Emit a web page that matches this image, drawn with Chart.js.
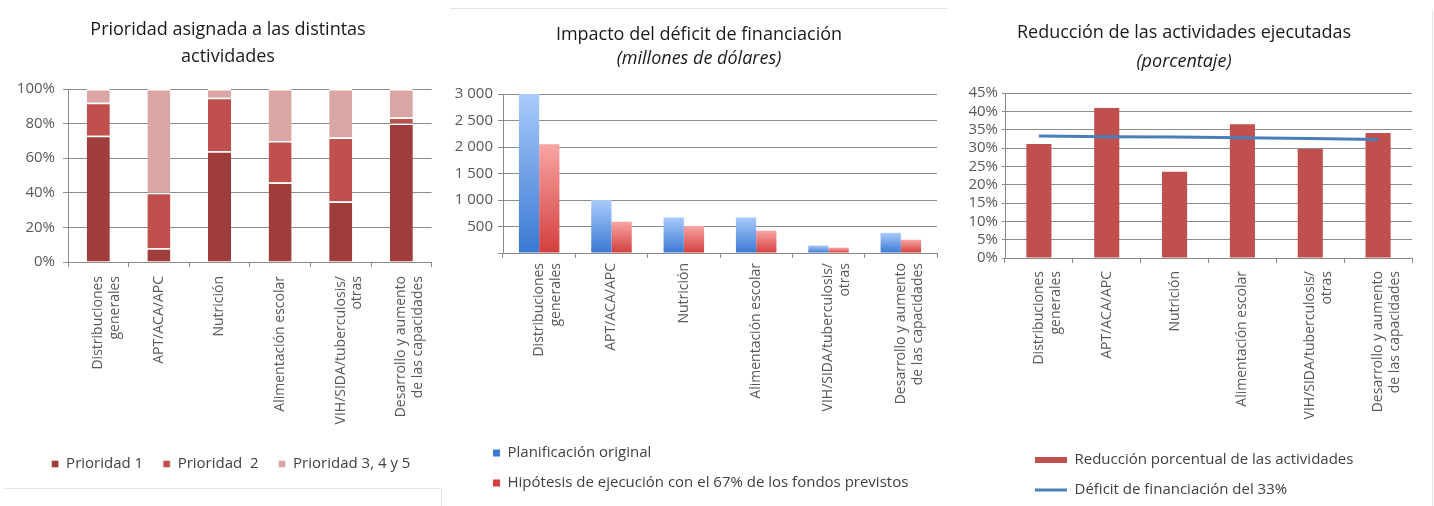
<!DOCTYPE html>
<html>
<head>
<meta charset="utf-8">
<script src="https://cdn.jsdelivr.net/npm/chart.js@4.4.1/dist/chart.umd.min.js"></script>
<style>
  html, body { margin: 0; padding: 0; background: #fff; }
  body { width: 1434px; height: 506px; position: relative; overflow: hidden; }
  .panel { position: absolute; top: 0; }
  .frame { position: absolute; border: 0 solid #e4e4e4; }
</style>
</head>
<body>
<div class="frame" style="left:5px;top:488px;width:436px;height:30px;border-top-width:1px;border-right-width:1px;"></div>
<div class="frame" style="left:450px;top:8px;width:498px;height:0;border-top-width:1px;"></div>
<div class="frame" style="left:1432px;top:10px;width:0;height:500px;border-left-width:1px;"></div>

<div class="panel" style="left:0;width:445px;height:506px"><canvas id="c1"></canvas></div>
<div class="panel" style="left:450px;width:495px;height:506px"><canvas id="c2"></canvas></div>
<div class="panel" style="left:950px;width:484px;height:508px"><canvas id="c3"></canvas></div>

<script>
// categories shared by the three charts
const activities = [
  ['Distribuciones', 'generales'],
  'APT/ACA/APC',
  'Nutrición',
  'Alimentación escolar',
  ['VIH/SIDA/tuberculosis/', 'otras'],
  ['Desarrollo y aumento', 'de las capacidades']
];

// chart 1: share of each priority (%)
const priority1 = [73, 8, 64, 46, 35, 80];
const priority2 = [19, 32, 31, 24, 37, 3.5];
const priority345 = [8, 60, 5, 30, 28, 16.5];

// chart 2: millions of dollars
const originalPlan = [3000, 1000, 670, 670, 140, 380];
const scenario67 = [2050, 590, 510, 420, 100, 250];

// chart 3: percent
const activityCut = [31.1, 40.9, 23.5, 36.5, 29.7, 34.1];
const fundingGap = [33.3, 33.1, 33.0, 32.8, 32.6, 32.3];

Chart.defaults.font.family = '"Open Sans", "Liberation Sans", sans-serif';
Chart.defaults.font.size = 13;
Chart.defaults.color = '#595959';
Chart.defaults.animation = false;

const gridColor = '#8c8c8c';
const titleColor = '#1a1a1a';
const legendFont = { size: 15 };
const yFont = { size: 15 };

// slides titles / legend sideways after layout (scales stay put)
const boxShift = {
  id: 'boxShift',
  afterLayout(chart, args, opts) {
    chart.boxes.forEach(b => {
      if (b instanceof Chart.Scale) return;
      const dx = b === chart.legend ? opts.legend : opts.title;
      if (dx) {
        b.left += dx;
        b.right += dx;
      }
    });
  }
};

function barGradient(ctx, topColor, bottomColor) {
  const chart = ctx.chart;
  if (!chart.chartArea || ctx.raw == null || !chart.scales.y) return bottomColor;
  const y = chart.scales.y;
  const top = y.getPixelForValue(ctx.raw);
  const base = y.getPixelForValue(0);
  if (!isFinite(top) || base - top < 1) return bottomColor;
  const g = chart.ctx.createLinearGradient(0, top, 0, base);
  g.addColorStop(0, topColor);
  g.addColorStop(1, bottomColor);
  return g;
}

function xAxis(height, pad) {
  return {
    grid: { display: true, drawOnChartArea: false, drawTicks: true, tickLength: 5, color: gridColor },
    border: { color: gridColor },
    ticks: {
      minRotation: 90, maxRotation: 90, autoSkip: false, padding: pad,
      font: { size: 14, lineHeight: 1.2 }
    },
    afterFit: (scale) => { scale.height = height; }
  };
}

function thousands(v) {
  return String(v).replace(/\B(?=(\d{3})+(?!\d))/g, ' ');
}

// ---- chart 1
new Chart(document.getElementById('c1'), {
  type: 'bar',
  data: {
    labels: activities,
    datasets: [
      { label: 'Prioridad 1', data: priority1, backgroundColor: '#9e3d3b' },
      { label: 'Prioridad  2', data: priority2, backgroundColor: '#c0504d' },
      { label: 'Prioridad 3, 4 y 5', data: priority345, backgroundColor: '#d9a6a5' }
    ].map(d => Object.assign(d, {
      borderColor: '#ffffff',
      borderWidth: { top: 1.5, left: 0, right: 0, bottom: 0 },
      borderSkipped: false,
      barPercentage: 0.38,
      categoryPercentage: 1
    }))
  },
  options: {
    responsive: true,
    maintainAspectRatio: false,
    layout: { padding: { left: 0, right: 13, top: 0, bottom: 24.5 } },
    plugins: {
      title: {
        display: true,
        text: ['Prioridad asignada a las distintas', 'actividades'],
        color: titleColor,
        font: { size: 18, weight: 'normal', lineHeight: 1.5 },
        padding: { top: 16.5, bottom: 18.5 }
      },
      legend: {
        position: 'bottom',
        labels: { boxWidth: 7, boxHeight: 7, padding: 20, color: '#404040', font: legendFont }
      },
      boxShift: { title: 12, legend: 15 },
      tooltip: { enabled: false }
    },
    scales: {
      x: Object.assign(xAxis(174.5, 9), { stacked: true }),
      y: {
        stacked: true,
        min: 0,
        max: 100,
        ticks: { stepSize: 20, padding: 8, font: yFont, callback: v => v + '%' },
        grid: { color: gridColor, tickLength: 5 },
        border: { color: gridColor },
        afterFit: (scale) => { scale.width = 68; }
      }
    }
  },
  plugins: [boxShift]
});

// ---- chart 2
new Chart(document.getElementById('c2'), {
  type: 'bar',
  data: {
    labels: activities,
    datasets: [
      {
        label: 'Planificación original',
        data: originalPlan,
        backgroundColor: (ctx) => barGradient(ctx, '#a9cbfa', '#3a78d3')
      },
      {
        label: 'Hipótesis de ejecución con el 67% de los fondos previstos',
        data: scenario67,
        backgroundColor: (ctx) => barGradient(ctx, '#f9a5a4', '#d23f3d')
      }
    ].map(d => Object.assign(d, { barPercentage: 1, categoryPercentage: 0.56 }))
  },
  options: {
    responsive: true,
    maintainAspectRatio: false,
    layout: { padding: { left: 0, right: 8, top: 0, bottom: 5.5 } },
    plugins: {
      title: {
        display: true,
        text: 'Impacto del déficit de financiación',
        color: titleColor,
        font: { size: 18, weight: 'normal', lineHeight: 1.2 },
        padding: { top: 24.2, bottom: 0 }
      },
      subtitle: {
        display: true,
        text: '(millones de dólares)',
        color: titleColor,
        font: { size: 18, style: 'italic', weight: 'normal', lineHeight: 1.2 },
        padding: { top: 2.4, bottom: 24.2 }
      },
      legend: {
        position: 'bottom',
        align: 'start',
        labels: { boxWidth: 7, boxHeight: 7, padding: 15, color: '#404040', font: legendFont }
      },
      boxShift: { title: 5.5, legend: 28 },
      tooltip: { enabled: false }
    },
    scales: {
      x: xAxis(177.5, 5),
      y: {
        min: 0,
        max: 3000,
        ticks: { stepSize: 500, padding: 5, font: yFont, callback: v => (v === 0 ? '' : thousands(v)) },
        grid: { color: gridColor, tickLength: 5 },
        border: { color: gridColor },
        afterFit: (scale) => { scale.width = 53; }
      }
    }
  },
  plugins: [boxShift]
});

// ---- chart 3
new Chart(document.getElementById('c3'), {
  type: 'bar',
  data: {
    labels: activities,
    datasets: [
      {
        label: 'Reducción porcentual de las actividades',
        data: activityCut,
        backgroundColor: '#c0504d',
        barPercentage: 0.37,
        categoryPercentage: 1,
        order: 1
      },
      {
        type: 'line',
        label: 'Déficit de financiación del 33%',
        data: fundingGap,
        borderColor: '#4a7ebb',
        backgroundColor: '#4a7ebb',
        borderWidth: 3,
        pointRadius: 0,
        tension: 0,
        order: 0
      }
    ]
  },
  options: {
    responsive: true,
    maintainAspectRatio: false,
    layout: { padding: { left: 0, right: 22, top: 0, bottom: 0.5 } },
    plugins: {
      title: {
        display: true,
        text: 'Reducción de las actividades ejecutadas',
        color: titleColor,
        font: { size: 18, weight: 'normal', lineHeight: 1.2 },
        padding: { top: 22.2, bottom: 0 }
      },
      subtitle: {
        display: true,
        text: '(porcentaje)',
        color: titleColor,
        font: { size: 18, style: 'italic', weight: 'normal', lineHeight: 1.2 },
        padding: { top: 7.4, bottom: 20.2 }
      },
      legend: {
        position: 'bottom',
        align: 'start',
        labels: {
          usePointStyle: true,
          pointStyleWidth: 32,
          boxHeight: 6,
          padding: 15,
          color: '#404040',
          font: legendFont,
          sort: (a, b) => a.datasetIndex - b.datasetIndex,
          generateLabels: (chart) => {
            const items = Chart.defaults.plugins.legend.labels.generateLabels(chart);
            items.forEach(it => {
              if (it.datasetIndex === 1) {
                it.pointStyle = 'line';
                it.lineWidth = 3;
                it.strokeStyle = '#4a7ebb';
              } else {
                it.pointStyle = 'rect';
                it.lineWidth = 0;
              }
            });
            return items;
          }
        }
      },
      boxShift: { title: 3, legend: 70 },
      tooltip: { enabled: false }
    },
    scales: {
      x: xAxis(179.5, 8),
      y: {
        min: 0,
        max: 45,
        ticks: { stepSize: 5, padding: 4, autoSkip: false, font: yFont, callback: v => v + '%' },
        grid: { color: gridColor, tickLength: 3 },
        border: { color: gridColor },
        afterFit: (scale) => { scale.width = 55; }
      }
    }
  },
  plugins: [boxShift]
});
</script>
</body>
</html>
